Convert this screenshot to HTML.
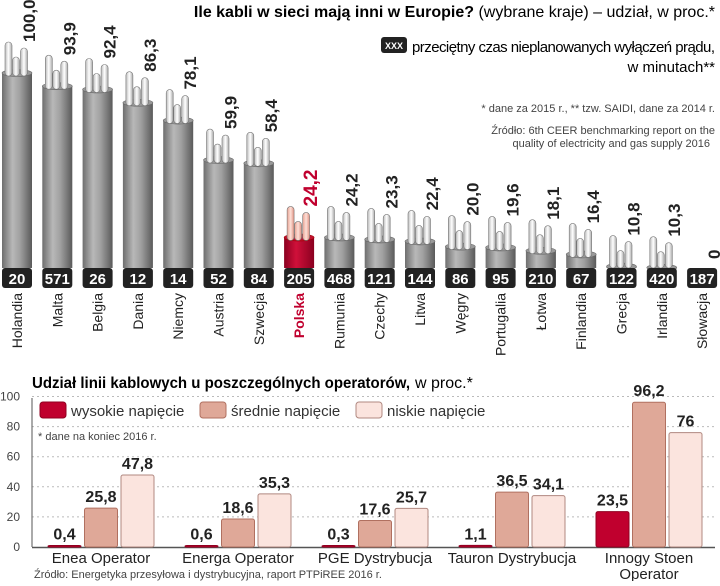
<!DOCTYPE html>
<html><head><meta charset="utf-8"><style>
body{margin:0;background:#fff;width:720px;height:581px;overflow:hidden;font-family:"Liberation Sans",sans-serif}
svg text{font-family:"Liberation Sans",sans-serif}
</style></head><body>
<svg id="c" width="720" height="581" viewBox="0 0 720 581" xmlns="http://www.w3.org/2000/svg">
<defs>
<linearGradient id="g" x1="0" x2="1"><stop offset="0" stop-color="#6e6e6e"/><stop offset="0.35" stop-color="#b8b8b8"/><stop offset="0.6" stop-color="#a0a0a0"/><stop offset="1" stop-color="#5a5a5a"/></linearGradient>
<linearGradient id="r" x1="0" x2="1"><stop offset="0" stop-color="#8a0020"/><stop offset="0.4" stop-color="#d0103a"/><stop offset="1" stop-color="#8a0020"/></linearGradient>
<linearGradient id="w" x1="0" x2="1"><stop offset="0" stop-color="#bbb"/><stop offset="0.5" stop-color="#fff"/><stop offset="1" stop-color="#aaa"/></linearGradient>
<linearGradient id="wr" x1="0" x2="1"><stop offset="0" stop-color="#e8a090"/><stop offset="0.5" stop-color="#fde0d8"/><stop offset="1" stop-color="#e09080"/></linearGradient>
</defs>
<text x="715" y="17" text-anchor="end" font-size="16"><tspan font-weight="bold">Ile kabli w sieci mają inni w Europie?</tspan> (wybrane kraje) – udział, w proc.*</text>
<rect x="381" y="37" width="26" height="16" rx="3" fill="#222"/>
<text x="394" y="49" text-anchor="middle" font-size="9" font-weight="bold" fill="#fff">XXX</text>
<text x="412" y="52" font-size="15" textLength="303" lengthAdjust="spacing">przeciętny czas nieplanowanych wyłączeń prądu,</text>
<text x="715" y="72" text-anchor="end" font-size="15">w minutach**</text>
<text x="715" y="112" text-anchor="end" font-size="11" fill="#444">* dane za 2015 r., ** tzw. SAIDI, dane za 2014 r.</text>
<text x="715" y="134" text-anchor="end" font-size="11" fill="#444">Źródło: 6th CEER benchmarking report on the</text>
<text x="710" y="147" text-anchor="end" font-size="11" fill="#444">quality of electricity and gas supply 2016</text>
<g id="topg"></g>
<text x="32" y="388" font-size="16" font-weight="bold" textLength="378" lengthAdjust="spacingAndGlyphs">Udział linii kablowych u poszczególnych operatorów,</text>
<text x="415" y="388" font-size="16">w proc.*</text>
<g id="bot"></g>
<text x="38" y="440" font-size="11" fill="#444">* dane na koniec 2016 r.</text>
<text x="34" y="578" font-size="11" fill="#444">Źródło: Energetyka przesyłowa i dystrybucyjna, raport PTPiREE 2016 r.</text>
</svg>
<script>
const countries=["Holandia","Malta","Belgia","Dania","Niemcy","Austria","Szwecja","Polska","Rumunia","Czechy","Litwa","Węgry","Portugalia","Łotwa","Finlandia","Grecja","Irlandia","Słowacja"];
const shares=[100.0,93.9,92.4,86.3,78.1,59.9,58.4,24.2,24.2,23.3,22.4,20.0,19.6,18.1,16.4,10.8,10.3,0];
const saidi=[20,571,26,12,14,52,84,205,468,121,144,86,95,210,67,122,420,187];
const operators=[["Enea Operator"],["Energa Operator"],["PGE Dystrybucja"],["Tauron Dystrybucja"],["Innogy Stoen","Operator"]];
const highV=[0.4,0.6,0.3,1.1,23.5];
const midV=[25.8,18.6,17.6,36.5,96.2];
const lowV=[47.8,35.3,25.7,34.1,76];
const yTicks=[0,20,40,60,80,100];
const seriesNames=["wysokie napięcie","średnie napięcie","niskie napięcie"];

const NS="http://www.w3.org/2000/svg";
function mk(p,tag,a,txt){const e=document.createElementNS(NS,tag);for(const k in a)e.setAttribute(k,a[k]);if(txt!==undefined)e.textContent=txt;p.appendChild(e);return e;}
const fmtShare=v=>v===0?"0":v.toFixed(1).replace(".",",");
const fmtBar=v=>Number.isInteger(v)?String(v):v.toFixed(1).replace(".",",");

// top chart
const topG=document.getElementById("topg");
const cx=i=>17+i*40.3;
const yTop=v=>290-2.17*v;
const wires=[[-8.5,31],[7,25],[-1,16]];
countries.forEach((c,i)=>{
  const x=cx(i),bt=yTop(shares[i]),pl=c==="Polska";
  const g=mk(topG,"g",{});
  
  
  if(shares[i]>0){
    const wf=pl?"url(#wr)":"url(#w)";
    if(bt<268){
      mk(g,"rect",{x:x-15,y:bt,width:30,height:268-bt,fill:pl?"url(#r)":"url(#g)"});
      mk(g,"ellipse",{cx:x,cy:bt,rx:15,ry:3.5,fill:pl?"#c0102e":"#9a9a9a",stroke:pl?"#900":"#666","stroke-width":0.6});
    }
    wires.forEach(([dx,h])=>{
      const wb=Math.min(bt+3,268);
      mk(g,"rect",{x:x+dx-3.5,y:bt-h,width:7,height:wb-(bt-h),rx:3.5,fill:wf,stroke:"#777","stroke-width":0.6});
    });
  }
  const lb=Math.min(bt-31,265);
  const t=mk(topG,"text",{transform:`translate(${x+18},${lb}) rotate(-90)`,"font-size":pl?19:17,"font-weight":"bold",fill:pl?"#c0002e":"#222"},fmtShare(shares[i]));
  
  
  const b=mk(topG,"rect",{x:x-15,y:268,width:30,height:20,rx:3,fill:"#222"});
  
  
  const bt2=mk(topG,"text",{x:x,y:284,"text-anchor":"middle","font-size":15,"font-weight":"bold",fill:"#fff"},saidi[i]);
  
  
  const cl=mk(topG,"text",{transform:`translate(${x+5},${293}) rotate(-90)`,"text-anchor":"end","font-size":14,"font-weight":pl?"bold":"normal",fill:pl?"#c0002e":"#222"},c);
  
  
});

// bottom chart
const bot=document.getElementById("bot");
const y0=547,k=1.505;
const yv=v=>y0-v*k;
yTicks.forEach(t=>{
  if(t>0){const l=mk(bot,"line",{x1:32,x2:715,y1:yv(t),y2:yv(t),stroke:"#bbb","stroke-dasharray":"2,3","stroke-width":1});
  
  }
  const tl=mk(bot,"text",{x:20,y:yv(t)+4,"text-anchor":"end","font-size":12,fill:"#444"},t);
  
  
});
const ax=mk(bot,"line",{x1:32,x2:715,y1:y0+0.5,y2:y0+0.5,stroke:"#555","stroke-width":1.5});


const ay=mk(bot,"line",{x1:32,x2:32,y1:398,y2:y0,stroke:"#555","stroke-width":1});


const fills=["#c0002e","#dfa898","#fbe4de"],strokes=["#900020","#b07060","#b08880"];
const series=[highV,midV,lowV];
const gx=i=>48+i*137;
operators.forEach((op,i)=>{
  series.forEach((s,j)=>{
    const x=gx(i)+j*36.5,v=s[i],h=Math.max(v*k,1.5);
    const r=mk(bot,"rect",{x:x,y:y0-h,width:33,height:h,rx:2,fill:fills[j],stroke:strokes[j],"stroke-width":1});
    
    
    const vl=mk(bot,"text",{x:x+16.5,y:y0-h-6,"text-anchor":"middle","font-size":16,"font-weight":"bold",fill:"#222"},fmtBar(v));
    
    
  });
  op.forEach((ln,li)=>{
    const ol=mk(bot,"text",{x:gx(i)+53,y:563+li*16,"text-anchor":"middle","font-size":15,fill:"#222"},ln);
    
    
  });
});
const lx=[40,200,356];
seriesNames.forEach((n,j)=>{
  const r=mk(bot,"rect",{x:lx[j],y:402,width:26,height:16,rx:3,fill:fills[j],stroke:strokes[j]});
  
  
  const t=mk(bot,"text",{x:lx[j]+31,y:416,"font-size":15,fill:"#333"},n);
  
  
});
</script>
</body></html>
